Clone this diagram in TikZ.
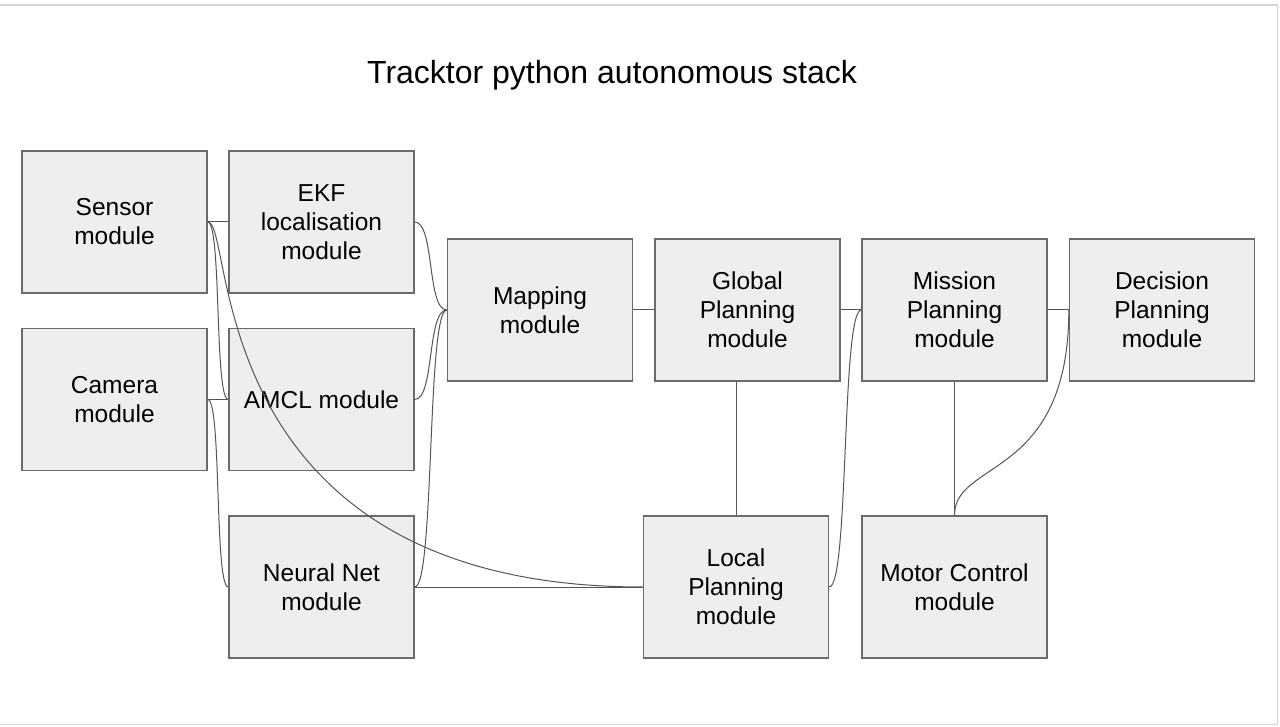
\documentclass[tikz,border=0pt]{standalone}
\usepackage{fontspec}
\setmainfont{Liberation Sans}
\begin{document}
\begin{tikzpicture}[x=1pt,y=1pt,
  modbox/.style={draw=boxborder,fill=boxfill,line width=1.4pt,minimum width=185pt,minimum height=142pt,inner sep=0pt,align=center,font=\fontsize{24.5}{29}\selectfont},
  conn/.style={draw=linecol,line width=1pt}]
\definecolor{boxfill}{HTML}{EEEEEE}
\definecolor{boxborder}{HTML}{6B6B6B}
\definecolor{linecol}{HTML}{555555}
\definecolor{framecol}{HTML}{D4D4D4}
\useasboundingbox (0,0) rectangle (1280,-727);
\draw[framecol,line width=1.5pt] (-3,-5) rectangle (1277.5,-724.5);
\node[font=\fontsize{32}{38}\selectfont] (title) at (612,-75) {Tracktor python autonomous stack};
\node[modbox] (sensor) at (114.5,-222) {Sensor\\module};
\node[modbox] (camera) at (114.5,-399.5) {Camera\\module};
\node[modbox] (ekf) at (321.5,-222) {EKF\\localisation\\module};
\node[modbox] (amcl) at (321.5,-399.5) {AMCL module};
\node[modbox] (nn) at (321.5,-587) {Neural Net\\module};
\node[modbox] (mapping) at (540,-310) {Mapping\\module};
\node[modbox] (global) at (747.5,-310) {Global\\Planning\\module};
\node[modbox] (mission) at (954.5,-310) {Mission\\Planning\\module};
\node[modbox] (decision) at (1162,-310) {Decision\\Planning\\module};
\node[modbox] (local) at (736,-587) {Local\\Planning\\module};
\node[modbox] (motor) at (954.5,-587) {Motor Control\\module};
% connectors
\draw[conn] (sensor.east) -- (ekf.west);
\draw[conn] (sensor.east) to[out=0,in=180,out distance=14pt,in distance=14pt] (amcl.west);
\draw[conn] (sensor.east) to[out=0,in=180,out distance=28pt,in distance=445pt] (local.west);
\draw[conn] (camera.east) -- (amcl.west);
\draw[conn] (camera.east) to[out=0,in=180,out distance=14pt,in distance=14pt] (nn.west);
\draw[conn] (ekf.east) to[out=0,in=180,out distance=20pt,in distance=20pt] (mapping.west);
\draw[conn] (amcl.east) to[out=0,in=180,out distance=20pt,in distance=20pt] (mapping.west);
\draw[conn] (nn.east) to[out=0,in=180,out distance=20pt,in distance=20pt] (mapping.west);
\draw[conn] (nn.east) -- (local.west);
\draw[conn] (mapping.east) -- (global.west);
\draw[conn] (global.east) -- (mission.west);
\draw[conn] (local.east) to[out=0,in=180,out distance=20pt,in distance=20pt] (mission.west);
\draw[conn] (local.north) -- (local.north |- global.south);
\draw[conn] (mission.south) -- (motor.north);
\draw[conn] (mission.east) -- (decision.west);
\draw[conn] (decision.west) to[out=270,in=90,out distance=170pt,in distance=56pt] (motor.north);
\end{tikzpicture}
\end{document}
